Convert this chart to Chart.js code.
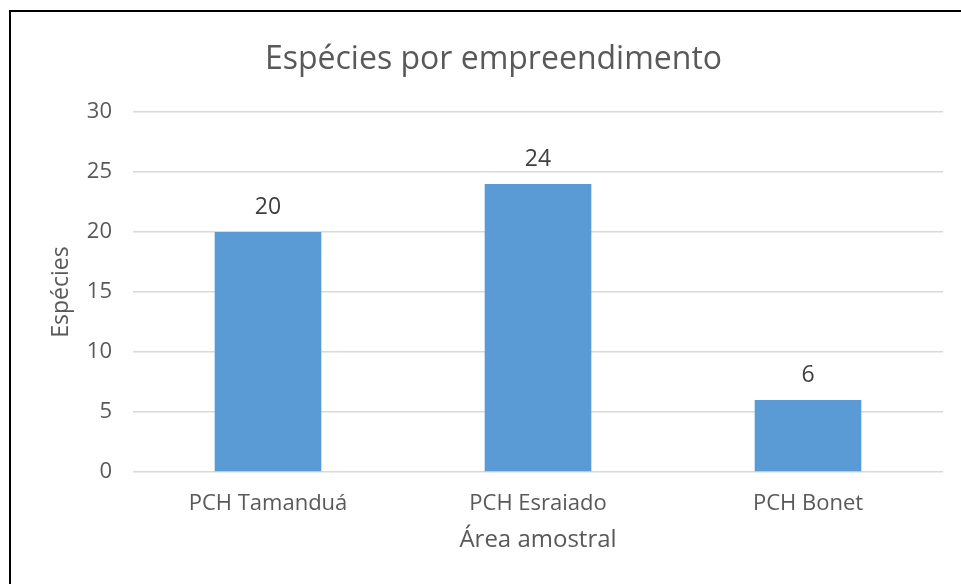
<!DOCTYPE html>
<html lang="pt">
<head>
<meta charset="utf-8">
<title>Espécies por empreendimento</title>
<script src="https://cdn.jsdelivr.net/npm/chart.js@4"></script>
<style>
    html, body { margin: 0; padding: 0; background: #fff; overflow: hidden; }
    #wrap { position: relative; width: 961px; height: 584px; }
    #frame {
        position: absolute; left: 9px; top: 10px; right: -10px; bottom: -10px;
        border-left: 2px solid #000; border-top: 2px solid #000;
        pointer-events: none;
    }
</style>
</head>
<body>
<div id="wrap">
    <canvas id="speciesChart" width="961" height="584"></canvas>
    <div id="frame"></div>
</div>
<script>
// Espécies por empreendimento

const areas = ["PCH Tamanduá", "PCH Esraiado", "PCH Bonet"];
const especies = [20, 24, 6];
const yTicks = [0, 5, 10, 15, 20, 25, 30];

const fontFamily = "'Open Sans', 'Noto Sans', sans-serif";

// valores escritos acima de cada barra
const valueLabels = {
    id: "valueLabels",
    afterDatasetsDraw(chart) {
        const ctx = chart.ctx;
        const meta = chart.getDatasetMeta(0);
        ctx.save();
        ctx.font = "23px " + fontFamily;
        ctx.fillStyle = "#404040";
        ctx.textAlign = "center";
        ctx.textBaseline = "alphabetic";
        meta.data.forEach((bar, i) => {
            ctx.fillText(String(especies[i]), bar.x, bar.y - 18);
        });
        ctx.restore();
    }
};

const ctx1 = document.getElementById("speciesChart");

new Chart(ctx1, {
    type: "bar",
    data: {
        labels: areas,
        datasets: [{
            label: "Espécies",
            data: especies,
            backgroundColor: "#5b9bd5",
            categoryPercentage: 1,
            barPercentage: 0.395
        }]
    },
    options: {
        responsive: false,
        animation: false,
        layout: {
            padding: { left: 44, right: 18, top: 0, bottom: 0 }
        },
        plugins: {
            legend: { display: false },
            tooltip: { enabled: false },
            title: {
                display: true,
                text: "Espécies por empreendimento",
                color: "#595959",
                font: { family: fontFamily, size: 32, weight: "normal" },
                padding: { top: 41, bottom: 32.6 }
            }
        },
        scales: {
            x: {
                grid: { display: false },
                border: { display: false },
                ticks: {
                    color: "#595959",
                    font: { family: fontFamily, size: 22 },
                    padding: 11
                },
                title: {
                    display: true,
                    text: "Área amostral",
                    color: "#595959",
                    font: { family: fontFamily, size: 24 },
                    padding: { top: 0, bottom: 29 }
                },
                afterFit(scale) { scale.height = 112; }
            },
            y: {
                min: 0,
                max: 30,
                afterBuildTicks(scale) {
                    scale.ticks = yTicks.map(v => ({ value: v }));
                },
                grid: {
                    color: "#d9d9d9",
                    lineWidth: 1.5,
                    drawTicks: false
                },
                border: { display: false },
                ticks: {
                    color: "#595959",
                    font: { family: fontFamily, size: 22 },
                    padding: 21
                },
                title: {
                    display: true,
                    text: "Espécies",
                    color: "#595959",
                    font: { family: fontFamily, size: 23 },
                    padding: { top: 4, bottom: 0 }
                },
                afterFit(scale) { scale.width = 89; }
            }
        }
    },
    plugins: [valueLabels]
});
</script>
</body>
</html>
